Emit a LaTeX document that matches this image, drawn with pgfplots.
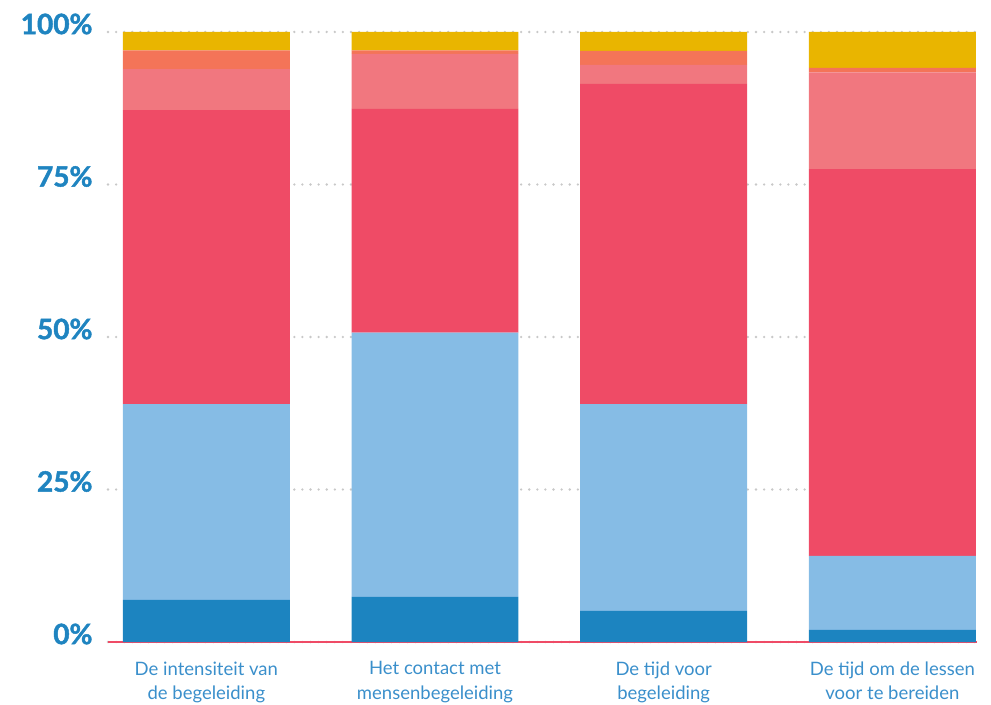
\documentclass[border=0pt]{standalone}
\usepackage{fontspec}
\setmainfont{Lato}
\newfontfamily\tickfont{Lato}[FakeBold=1.6]
\usepackage{pgfplots}
\pgfplotsset{compat=1.18}
\definecolor{dblue}{HTML}{1C84C0}
\definecolor{lblue}{HTML}{86BCE5}
\definecolor{cred}{HTML}{EF4B66}
\definecolor{cpink}{HTML}{F1777F}
\definecolor{corange}{HTML}{F47458}
\definecolor{cyellow}{HTML}{E9B500}
\definecolor{ticktext}{HTML}{1F84C0}
\definecolor{labeltext}{HTML}{3A8FCB}
\definecolor{gridgray}{HTML}{C8C8C8}
\begin{document}
\begin{tikzpicture}
\begin{axis}[
  name=ax,
  scale only axis,
  width=869pt, height=610pt,
  ybar stacked, bar width=0.73,
  xmin=-0.43, xmax=3.37, ymin=0, ymax=100,
  xtick={0,1,2,3},
  xticklabels={{De intensiteit van\\de begeleiding},{Het contact met\\mensenbegeleiding},{De tijd voor\\begeleiding},{De tijd om de lessen\\voor te bereiden}},
  ytick={0,25,50,75,100},
  yticklabels={0\%,25\%,50\%,75\%,100\%},
  major tick length=0pt,
  axis line style={draw=none},
  ymajorgrids,
  major grid style={draw=gridgray, line width=2.6pt, line cap=round, dash pattern=on 0pt off 8.1pt},
  yticklabel style={font=\tickfont\fontsize{28}{31}\selectfont\bfseries, text=ticktext, yshift=8pt, xshift=-12pt},
  xticklabel style={font=\fontsize{18.5}{24.5}\selectfont, text=labeltext, align=center, yshift=-16pt},
]
\addplot[fill=dblue, draw=none] coordinates {(0,6.9) (1,7.4) (2,5.1) (3,2.0)};
\addplot[fill=lblue, draw=none] coordinates {(0,32.1) (1,43.3) (2,33.9) (3,12.1)};
\addplot[fill=cred, draw=none] coordinates {(0,48.2) (1,36.7) (2,52.5) (3,63.4)};
\addplot[fill=cpink, draw=none] coordinates {(0,6.7) (1,9.0) (2,3.1) (3,15.9)};
\addplot[fill=corange, draw=none] coordinates {(0,3.1) (1,0.6) (2,2.3) (3,0.7)};
\addplot[fill=cyellow, draw=none] coordinates {(0,3.0) (1,3.0) (2,3.1) (3,5.9)};
\draw[cred, line width=2.5pt] (rel axis cs:0,0) -- (rel axis cs:1,0);
\end{axis}
\path (ax.south west) ++(-108pt,-62pt) coordinate (bl);
\path (ax.north east) ++(14pt,32pt) coordinate (tr);
\pgfresetboundingbox
\path[use as bounding box] (bl) rectangle (tr);
\end{tikzpicture}
\end{document}
